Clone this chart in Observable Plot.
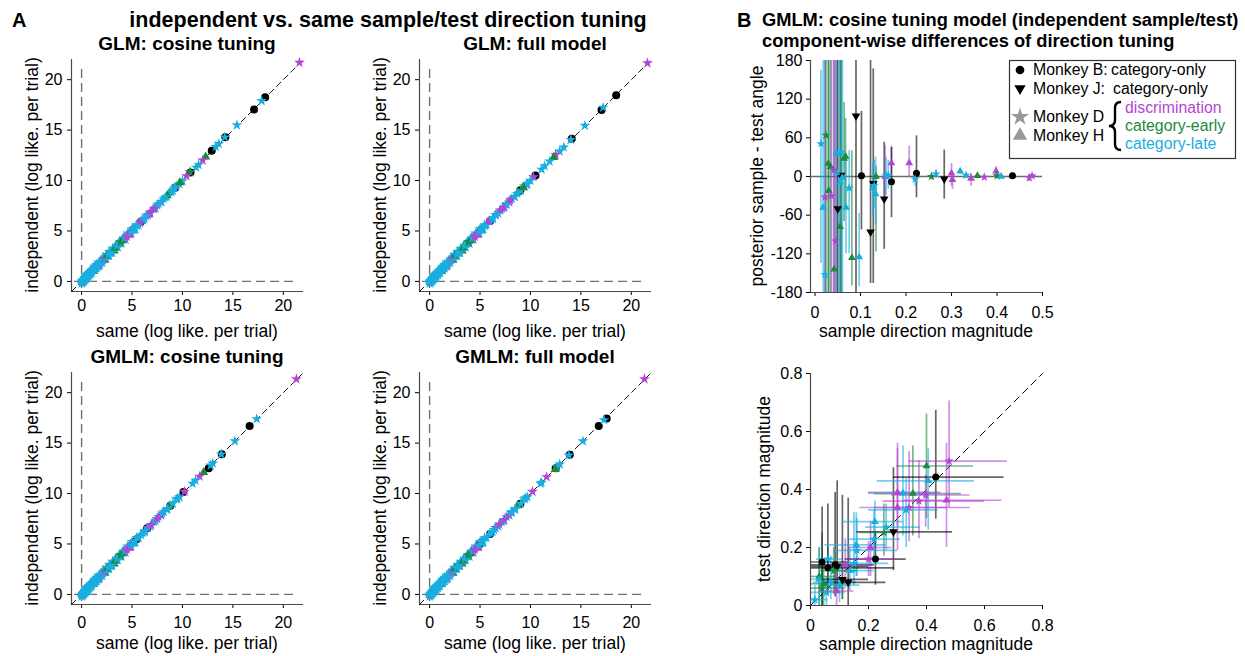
<!DOCTYPE html>
<html><head><meta charset="utf-8">
<script src="https://cdn.jsdelivr.net/npm/d3@7"></script>
<script src="https://cdn.jsdelivr.net/npm/@observablehq/plot@0.6"></script>
<style>
body{margin:0;background:#fff;}
#root{position:relative;width:1245px;height:656px;overflow:hidden;font-family:"Liberation Sans",Arial,Helvetica,sans-serif;}
.panel{position:absolute;}
</style></head><body><div id="root"></div>
<script>
// ---------- data: panel A (log likelihood per trial, same vs independent) ----------
const llTicks = [0, 5, 10, 15, 20];
const llDomain = [-1, 22];
const refSpan = [-0.7, 21.3];

// dense low-range cluster (shared look in all four panels)
const lowSame  = [0.0,0.03,0.06,0.1,0.14,0.18,0.22,0.27,0.32,0.37,0.42,0.48,0.54,0.6,0.67,0.74,0.81,0.89,0.97,1.05,1.14,1.23,1.33,1.43,1.53,1.64,1.75,1.87,1.99,2.12,2.25,2.39,2.53,2.68,2.83,2.99,3.15,3.32,3.5,3.68,3.87,4.06,4.26,4.47,4.68,4.9,5.12,5.3];
const lowIndep = [0.05,0.0,0.1,0.06,0.18,0.12,0.26,0.22,0.36,0.33,0.46,0.43,0.58,0.55,0.7,0.7,0.84,0.85,1.0,1.02,1.17,1.2,1.36,1.4,1.56,1.6,1.78,1.84,2.02,2.1,2.28,2.36,2.56,2.65,2.86,2.97,3.18,3.3,3.52,3.66,3.9,4.04,4.28,4.45,4.7,4.88,5.14,5.3];
const lowGroup = ["H-late","D-late","H-late","D-late","H-late","D-late","H-late","D-late","H-late","D-late",
  "H-late","D-late","H-late","D-late","H-late","D-late","H-late","D-late","H-late","D-late",
  "H-late","D-late","H-late","D-late","H-late","D-late","H-late","D-late","H-late","D-late",
  "D-disc","D-late","H-early","D-late","H-late","D-late","H-late","H-early","D-late","H-late",
  "D-early","H-early","D-late","D-disc","H-disc","D-late","B","D-late"];
const lowSame2  = [0.01,0.04,0.08,0.12,0.16,0.2,0.25,0.3,0.35,0.4,0.45,0.51,0.57,0.63,0.7,0.77,0.85,0.93,1.01,1.1,1.19,1.28,1.38,1.48,1.58,1.69,1.81,1.93,2.05,2.18,2.32,2.46,2.6,2.75,2.91,3.07,3.23,3.41,3.59,3.77,3.96,4.16,4.36,4.57,4.79,5.01,5.22,5.45];
const lowIndep2 = [-0.19,0.24,-0.12,0.32,-0.04,0.4,0.05,0.5,0.15,0.6,0.25,0.71,0.37,0.83,0.5,0.97,0.65,1.13,0.81,1.3,0.99,1.48,1.18,1.68,1.38,1.89,1.61,2.13,1.85,2.38,2.12,2.66,2.4,2.95,2.71,3.27,3.03,3.61,3.39,3.97,3.76,4.36,4.16,4.77,4.59,5.21,5.02,5.6];
const lowGroup2 = ["D-late","H-late","D-late","H-late","D-late","H-late","D-late","H-late","D-late","H-late",
  "D-late","H-late","D-late","H-late","D-late","H-late","D-late","H-late","D-late","H-late",
  "H-early","D-late","H-late","D-late","H-late","D-late","D-disc","H-late","D-late","H-late",
  "H-early","D-late","H-late","D-late","H-late","D-late","H-early","H-late","D-late","H-late",
  "D-late","H-late","D-disc","D-late","H-disc","D-late","H-late","D-late"];
const midSame  = [5.65,5.95,6.25,6.55,6.8,7.05,7.35,7.65,7.9,8.15,8.45,8.75,9.05,9.4,9.7];
const midIndep = [5.6,6.0,6.2,6.6,6.75,7.1,7.3,7.7,7.85,8.2,8.4,8.8,9.0,9.45,9.65];
const midGroup = ["D-late","H-late","D-late","D-disc","D-late","H-late","D-late","D-late","D-disc","D-late","D-late","H-early","D-late","D-late","D-late"];

const glmCosSame  = [21.6,18.2,17.85,17.1,15.4,14.25,14.2,13.6,13.3,12.9,12.3,12.0,11.6,11.35,10.8,10.75,10.4,10.0,9.75,9.3,9.2,8.9,8.5,8.3,7.9,7.5,7.2,6.8,6.6,6.4,6.1,5.9,5.8,5.7,5.5];
const glmCosIndep = [21.7,18.25,17.9,17.05,15.5,14.3,14.3,13.65,13.35,12.95,12.35,12.0,11.55,11.3,10.8,10.85,10.45,9.95,9.8,9.3,9.25,8.85,8.5,8.35,7.9,7.55,7.2,6.85,6.6,6.45,6.1,5.95,5.8,5.75,5.5];
const glmCosGroup = ["D-disc","B","D-late","B","D-late","B","D-late","D-late","D-late","B","H-early","D-disc","D-late","D-late","B","D-early","D-disc","D-late","H-early","B","D-late","D-late","H-early","D-late","D-late","D-late","D-disc","D-disc","H-disc","D-late","D-late","B","D-disc","H-disc","D-late"];

const glmFullSame  = [21.6,18.5,17.2,17.05,15.4,14.1,14.0,13.3,12.9,12.5,12.3,11.9,11.4,11.1,10.5,10.3,10.0,9.6,9.3,9.0,8.7,8.4,8.0,7.6,7.3,7.0,6.6,6.3,6.0,5.8,5.5];
const glmFullIndep = [21.65,18.45,17.25,17.0,15.45,14.15,14.05,13.3,12.9,12.55,12.3,11.9,11.45,11.1,10.5,10.35,10.0,9.6,9.3,9.05,8.7,8.4,8.05,7.6,7.3,7.05,6.6,6.3,6.0,5.85,5.5];
const glmFullGroup = ["D-disc","B","D-late","B","D-late","B","D-late","D-late","D-late","D-disc","H-early","D-late","D-late","D-late","B","D-disc","D-late","D-late","H-early","B","D-late","D-late","D-disc","D-late","H-disc","D-disc","D-late","D-late","B","H-disc","D-late"];

const gmlmCosSame  = [21.3,17.36,16.66,15.2,13.9,13.85,13.0,12.8,12.6,12.1,11.7,11.3,11.0,10.2,10.1,9.5,8.8,8.5,8.0,7.5,6.9,6.5,6.3,5.9,5.5];
const gmlmCosIndep = [21.35,17.4,16.7,15.2,13.9,13.9,13.0,12.8,12.5,12.1,11.7,11.3,11.0,10.2,10.15,9.5,8.8,8.5,8.05,7.5,6.9,6.55,6.3,5.9,5.5];
const gmlmCosGroup = ["D-disc","D-late","B","D-late","B","D-late","D-late","D-late","B","H-early","D-disc","D-late","D-late","D-disc","B","D-late","B","D-late","D-late","D-disc","D-disc","B","D-late","D-late","B"];

const gmlmFullSame  = [21.3,17.56,17.3,16.77,15.2,13.9,13.8,12.9,12.6,12.5,12.45,11.6,11.1,11.0,10.2,9.5,9.0,8.5,8.1,7.4,6.9,6.4,6.0,5.0];
const gmlmFullIndep = [21.35,17.45,17.3,16.7,15.2,13.85,13.8,12.9,12.65,12.5,12.4,11.65,11.1,11.0,10.2,9.55,9.0,8.5,8.1,7.4,6.95,6.4,6.0,5.0];
const gmlmFullGroup = ["D-disc","B","D-late","B","D-late","B","D-late","D-late","D-late","B","H-early","D-disc","D-late","D-late","D-disc","D-late","B","D-late","D-late","D-disc","D-disc","D-late","B","B"];

// ---------- data: panel B top (angle difference vs sample magnitude) ----------
const angTicks = [-180, -120, -60, 0, 60, 120, 180];
const magTicksTop = [0, 0.1, 0.2, 0.3, 0.4, 0.5];
const topX  = [0.013,0.018,0.022,0.022,0.024,0.029,0.034,0.030,0.042,0.047,0.047,0.057,0.058,0.064,0.067,0.055,0.075,0.068,0.055,0.081,0.097,0.090,0.102,0.122,0.128,0.127,0.130,0.134,0.133,0.152,0.154,0.156,0.161,0.168,0.168,0.207,0.223,0.220,0.256,0.266,0.284,0.300,0.302,0.319,0.332,0.343,0.357,0.372,0.398,0.400,0.409,0.434,0.471,0.477,0.036,0.041,0.050,0.060,0.045];
const topY  = [51,-48,-152,-32,64,20,15,-22,-144,36,6,2,38,28,31,-9,-18,-48,-78,-126,-125,94,1,-86,-11,-18,-14,0,-27,-35,0,2,2,21,-8,21,5,-4,0,4,-4,5,-5,8,2,-3,1,-1,8,1,0,1,-2,1,-30,10,-50,-2,-100];
const topLo = [-135,-180,-180,-180,-180,-180,-180,-180,-180,-180,-180,-180,-180,-70,-50,-180,-120,-120,-180,-170,-171,-180,-83,-166,-166,-60,-50,-117,-75,-113,-36,-30,-20,3,-64,0,-33,-15,-5,-3,-35,-15,-20,3,-3,-15,-3,-4,3,-2,-3,-4,-8,-2,-180,-180,-180,-180,-180];
const topHi = [165,180,180,180,180,180,180,180,180,180,180,180,180,115,90,180,40,30,180,40,-57,180,101,180,167,20,25,16,30,53,48,30,25,47,45,47,63,8,5,10,41,20,5,12,6,5,5,3,15,4,3,6,3,4,180,180,180,180,180];
const topGroup = ["D-late","H-late","D-late","D-disc","D-early","H-early","H-early","H-early","H-early","H-late","H-late","J","D-late","H-early","H-early","H-late","D-late","H-late","H-early","H-early","H-late","J","B","J","J","H-late","D-late","H-early","H-late","J","H-disc","D-late","D-late","H-disc","B","H-disc","B","D-late","D-early","D-late","J","H-disc","H-disc","H-late","D-late","H-disc","H-early","D-disc","H-disc","D-early","H-late","B","D-disc","D-disc","D-disc","D-disc","J","H-late","D-disc"];

// ---------- data: panel B bottom (test vs sample magnitude) ----------
const magTicks = [0, 0.2, 0.4, 0.6, 0.8];
const botX   = [0.432,0.478,0.400,0.406,0.353,0.319,0.300,0.340,0.374,0.300,0.469,0.397,0.330,0.286,0.253,0.222,0.261,0.219,0.207,0.158,0.224,0.092,0.085,0.150,0.136,0.160,0.120,0.040,0.030,0.015,0.055,0.070,0.045,0.060,0.030,0.110,0.040,0.130,0.090,0.080,0.100,0.200,0.060];
const botY   = [0.443,0.498,0.481,0.430,0.386,0.387,0.390,0.338,0.360,0.338,0.363,0.381,0.330,0.254,0.252,0.289,0.270,0.229,0.200,0.209,0.160,0.135,0.140,0.145,0.120,0.190,0.140,0.060,0.100,0.020,0.045,0.080,0.075,0.160,0.090,0.090,0.150,0.080,0.050,0.120,0.070,0.160,0.130];
const botXlo = [0.286,0.340,0.297,0.230,0.220,0.200,0.200,0.220,0.250,0.170,0.320,0.280,0.200,0.160,0.170,0.110,0.190,0.130,0.130,0.050,0.120,0.000,0.000,0.070,0.060,0.080,0.040,0.000,0.000,0.000,0.000,0.010,0.000,0.020,0.000,0.030,0.000,0.040,0.030,0.030,0.050,0.120,0.000];
const botXhi = [0.667,0.679,0.562,0.565,0.520,0.440,0.450,0.550,0.600,0.470,0.660,0.550,0.440,0.490,0.340,0.320,0.380,0.310,0.280,0.260,0.330,0.200,0.220,0.270,0.220,0.300,0.210,0.120,0.090,0.060,0.120,0.160,0.120,0.110,0.100,0.200,0.130,0.260,0.150,0.160,0.170,0.300,0.290];
const botYlo = [0.298,0.338,0.300,0.260,0.240,0.240,0.270,0.220,0.230,0.190,0.200,0.270,0.200,0.120,0.170,0.200,0.190,0.150,0.100,0.100,0.070,0.050,0.030,0.070,0.050,0.100,0.060,0.000,0.000,0.000,0.000,0.020,0.000,0.060,0.000,0.020,0.000,0.000,0.000,0.040,0.010,0.100,0.040];
const botYhi = [0.673,0.705,0.660,0.540,0.550,0.550,0.560,0.530,0.500,0.540,0.560,0.450,0.440,0.475,0.350,0.360,0.350,0.330,0.290,0.320,0.250,0.430,0.390,0.320,0.200,0.300,0.230,0.250,0.200,0.070,0.100,0.170,0.160,0.200,0.200,0.380,0.340,0.370,0.120,0.200,0.130,0.220,0.350];
const botGroup = ["B","D-disc","H-early","H-late","H-early","H-late","H-disc","D-disc","D-disc","H-disc","H-disc","D-disc","D-late","J","D-early","H-late","D-late","D-late","H-disc","H-late","B","J","B","D-late","H-late","D-late","H-disc","D-early","H-early","D-late","D-late","H-late","H-early","D-late","H-late","J","B","J","H-disc","D-early","H-late","D-disc","B"];

// ---------- style ----------
const FONT = '"Liberation Sans", Arial, Helvetica, sans-serif';
const taskDomain = ["cat", "disc", "early", "late"];
const taskRange  = ["#000000", "#b444d4", "#1b8a3d", "#19aee0"];
const AXIS = "#4a4a4a";
const fmt = d => String(d);
const triDown = {draw(ctx, size) {
  const y = -Math.sqrt(size / (Math.sqrt(3) * 3));
  ctx.moveTo(0, -2 * y); ctx.lineTo(Math.sqrt(3) * y, y); ctx.lineTo(-Math.sqrt(3) * y, y); ctx.closePath();
}};

function toRows(xs, ys, gs) {
  return xs.map((x, i) => { const [m, t] = gs[i].split("-"); return {x, y: ys[i], monkey: m, task: t || "cat", i}; });
}
const root = document.getElementById("root");
function place(svg, left, top) {
  const div = document.createElement("div");
  div.className = "panel"; div.style.left = left + "px"; div.style.top = top + "px";
  div.appendChild(svg); root.appendChild(div);
}
function dotMarks(rows, rB, rJ, rDH) {
  return [
    Plot.dot(rows.filter(d => d.monkey === "B"), {x: "x", y: "y", r: rB, fill: "#000", symbol: "circle"}),
    Plot.dot(rows.filter(d => d.monkey === "J"), {x: "x", y: "y", r: rJ, fill: "#000", symbol: triDown}),
    Plot.dot(rows.filter(d => d.monkey === "D" || d.monkey === "H"), {x: "x", y: "y", r: rDH, fill: "task", symbol: "monkey"})
  ];
}

function llPanel(xs, ys, gs, fl, ft, padX) {
  const rows = [...toRows(lowSame2, lowIndep2, lowGroup2), ...toRows(lowSame, lowIndep, lowGroup),
                ...toRows(midSame, midIndep, midGroup), ...toRows(xs, ys, gs)];
  const ml = 40, mt = 10;
  const svg = Plot.plot({
    width: ml + 232 + 12, height: mt + 232 + 30, marginLeft: ml, marginRight: 12, marginTop: mt, marginBottom: 30,
    style: {fontFamily: FONT, fontSize: "16px", color: "#000", background: "transparent", overflow: "visible"},
    x: {domain: llDomain, ticks: llTicks, tickSize: 4, tickPadding: padX, label: null, tickFormat: fmt},
    y: {domain: llDomain, ticks: llTicks, tickSize: 4, tickPadding: 5, label: null, tickFormat: fmt},
    color: {domain: taskDomain, range: taskRange},
    symbol: {domain: ["D", "H"], range: ["star", "triangle"]},
    marks: [
      Plot.ruleX([llDomain[0]], {stroke: AXIS, strokeWidth: 1.2}),
      Plot.ruleY([llDomain[0]], {stroke: AXIS, strokeWidth: 1.2}),
      Plot.ruleX([0], {y1: refSpan[0], y2: refSpan[1], stroke: "#707070", strokeWidth: 1.4, strokeDasharray: "9,5"}),
      Plot.ruleY([0], {x1: refSpan[0], x2: refSpan[1], stroke: "#707070", strokeWidth: 1.4, strokeDasharray: "9,5"}),
      Plot.line(llDomain, {x: d => d, y: d => d, stroke: "#000", strokeWidth: 0.9, strokeDasharray: "6,4"}),
      ...dotMarks(rows, 4, 3.5, 3.4)
    ]
  });
  place(svg, fl - ml, ft - mt);
}

llPanel(glmCosSame, glmCosIndep, glmCosGroup, 71, 59, 4);
llPanel(glmFullSame, glmFullIndep, glmFullGroup, 419, 59, 4);
llPanel(gmlmCosSame, gmlmCosIndep, gmlmCosGroup, 71, 372, 8);
llPanel(gmlmFullSame, gmlmFullIndep, gmlmFullGroup, 419, 372, 8);

// B top
(function () {
  const rows = topX.map((x, i) => { const [m, t] = topGroup[i].split("-"); return {x, y: topY[i], lo: topLo[i], hi: topHi[i], monkey: m, task: t || "cat"}; });
  const ml = 55, mt = 10, xd = [-0.01, 0.5], yd = [-180, 180];
  const svg = Plot.plot({
    width: ml + 232 + 12, height: mt + 232 + 35, marginLeft: ml, marginRight: 12, marginTop: mt, marginBottom: 35,
    style: {fontFamily: FONT, fontSize: "16px", color: "#000", background: "transparent", overflow: "visible"},
    x: {domain: xd, ticks: magTicksTop, tickSize: 4, tickPadding: 10, label: null, tickFormat: fmt},
    y: {domain: yd, ticks: angTicks, tickSize: 4, tickPadding: 4, label: null, tickFormat: fmt},
    color: {domain: taskDomain, range: taskRange},
    symbol: {domain: ["D", "H"], range: ["star", "triangle"]},
    marks: [
      Plot.ruleY([0], {stroke: "#6a6a6a", strokeWidth: 1.6}),
      Plot.ruleX(rows, {x: "x", y1: "lo", y2: "hi", stroke: "task", strokeOpacity: 0.6, strokeWidth: 1.7, clip: true}),
      ...dotMarks(rows, 3.5, 3.2, 2.9),
      Plot.ruleX([xd[0]], {stroke: AXIS, strokeWidth: 1.2}),
      Plot.ruleY([yd[0]], {stroke: AXIS, strokeWidth: 1.2})
    ]
  });
  place(svg, 810 - ml, 60 - mt);
})();

// B bottom
(function () {
  const rows = botX.map((x, i) => { const [m, t] = botGroup[i].split("-"); return {x, y: botY[i], xlo: botXlo[i], xhi: botXhi[i], ylo: botYlo[i], yhi: botYhi[i], monkey: m, task: t || "cat"}; });
  const ml = 50, mt = 10, d = [0, 0.8];
  const svg = Plot.plot({
    width: ml + 232 + 12, height: mt + 232 + 35, marginLeft: ml, marginRight: 12, marginTop: mt, marginBottom: 35,
    style: {fontFamily: FONT, fontSize: "16px", color: "#000", background: "transparent", overflow: "visible"},
    x: {domain: d, ticks: magTicks, tickSize: 4, tickPadding: 10, label: null, tickFormat: fmt},
    y: {domain: d, ticks: magTicks, tickSize: 4, tickPadding: 4, label: null, tickFormat: fmt},
    color: {domain: taskDomain, range: taskRange},
    symbol: {domain: ["D", "H"], range: ["star", "triangle"]},
    marks: [
      Plot.line(d, {x: v => v, y: v => v, stroke: "#000", strokeWidth: 1, strokeDasharray: "7,5"}),
      Plot.ruleX(rows, {x: "x", y1: "ylo", y2: "yhi", stroke: "task", strokeOpacity: 0.6, strokeWidth: 1.7}),
      Plot.ruleY(rows, {y: "y", x1: "xlo", x2: "xhi", stroke: "task", strokeOpacity: 0.6, strokeWidth: 1.7}),
      ...dotMarks(rows, 3.5, 3.2, 2.9),
      Plot.ruleX([d[0]], {stroke: AXIS, strokeWidth: 1.2}),
      Plot.ruleY([d[0]], {stroke: AXIS, strokeWidth: 1.2})
    ]
  });
  place(svg, 810 - ml, 373 - mt);
})();

// ---------- text overlay & legend ----------
const ov = d3.select(root).append("svg").attr("width", 1245).attr("height", 656)
  .style("position", "absolute").style("left", 0).style("top", 0).style("pointer-events", "none")
  .style("font-family", FONT);
function txt(s, x, y, o = {}) {
  const t = ov.append("text").attr("x", x).attr("y", y).text(s)
    .attr("font-size", o.size || 17.5).attr("fill", o.fill || "#000")
    .attr("font-weight", o.bold ? "bold" : "normal").attr("text-anchor", o.anchor || "start");
  if (o.rot) t.attr("x", 0).attr("y", 0).attr("transform", `translate(${x},${y}) rotate(-90)`).attr("text-anchor", "middle");
  return t;
}
txt("A", 12, 27, {size: 20, bold: true});
txt("independent vs. same sample/test direction tuning", 388, 27, {size: 21.5, bold: true, anchor: "middle"});
txt("GLM: cosine tuning", 187, 50, {size: 19, bold: true, anchor: "middle"});
txt("GLM: full model", 535, 50, {size: 19, bold: true, anchor: "middle"});
txt("GMLM: cosine tuning", 187, 363, {size: 19, bold: true, anchor: "middle"});
txt("GMLM: full model", 535, 363, {size: 19, bold: true, anchor: "middle"});
const xl = "same (log like. per trial)", yl = "independent (log like. per trial)";
[[71, 59, 278], [419, 59, 278], [71, 372, 277], [419, 372, 277]].forEach(([fx, fy, dy]) => {
  txt(xl, fx + 116, fy + dy, {anchor: "middle"});
  txt(yl, fx - 33.5, fy + 116, {rot: true});
});
txt("B", 737, 27, {size: 20, bold: true});
txt("GMLM: cosine tuning model (independent sample/test)", 762, 26, {size: 18.3, bold: true});
txt("component-wise differences of direction tuning", 762, 47, {size: 18.3, bold: true});
txt("posterior sample - test angle", 763, 176, {rot: true});
txt("sample direction magnitude", 926, 337, {anchor: "middle"});
txt("test direction magnitude", 770, 489, {rot: true});
txt("sample direction magnitude", 926, 650, {anchor: "middle"});

// legend
ov.append("rect").attr("x", 1009.5).attr("y", 60.5).attr("width", 226).attr("height", 98)
  .attr("fill", "#fff").attr("stroke", "#333").attr("stroke-width", 1.2);
const sym = (type, size, x, y, fill) => ov.append("path").attr("d", d3.symbol(type, size)()).attr("transform", `translate(${x},${y})`).attr("fill", fill);
sym(d3.symbolCircle, 60, 1020, 70, "#000");
sym(triDown, 55, 1020, 88.5, "#000");
sym(d3.symbolStar, 100, 1020, 117, "#999");
sym(d3.symbolTriangle, 90, 1020, 135.5, "#999");
const L = 15.8;
txt("Monkey B:", 1033, 75, {size: L});
txt("category-only", 1111, 75, {size: L});
txt("Monkey J:", 1033, 94, {size: L});
txt("category-only", 1113, 94, {size: L});
txt("Monkey D", 1033, 122, {size: L});
txt("Monkey H", 1033, 140.5, {size: L});
ov.append("path").attr("d", "M1121,102 Q1115,102 1115,108 L1115,120 Q1115,126 1109,126 Q1115,126 1115,132 L1115,144 Q1115,150 1121,150")
  .attr("fill", "none").attr("stroke", "#000").attr("stroke-width", 2.4);
txt("discrimination", 1125, 112.5, {size: L, fill: taskRange[1]});
txt("category-early", 1125, 131, {size: L, fill: taskRange[2]});
txt("category-late", 1125, 149, {size: L, fill: taskRange[3]});
</script></body></html>
